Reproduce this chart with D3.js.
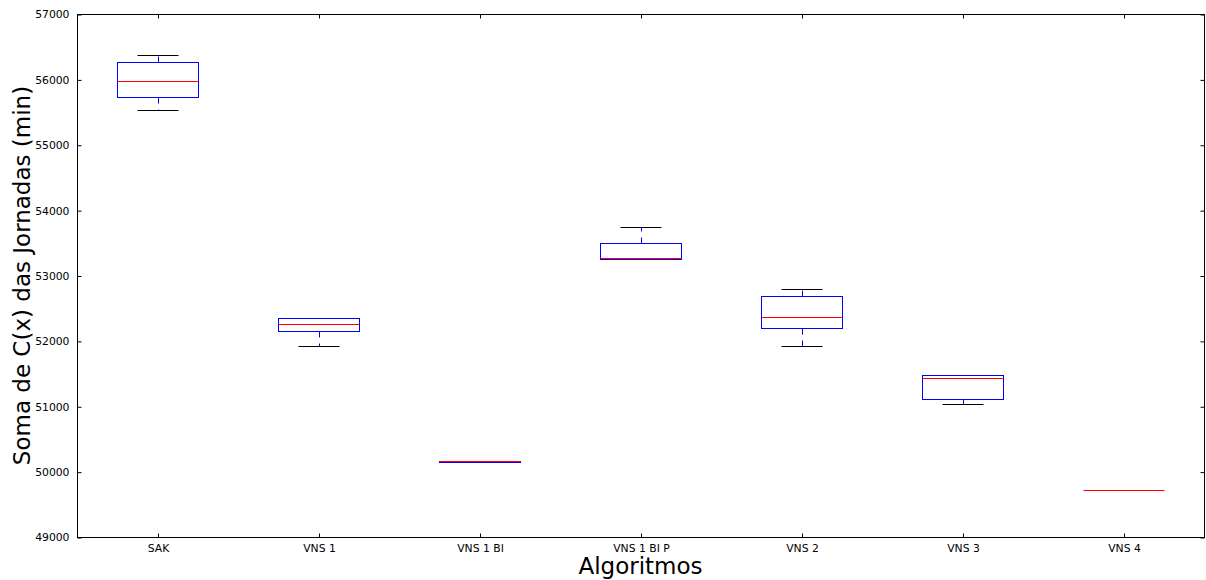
<!DOCTYPE html>
<html>
<head>
<meta charset="utf-8">
<script src="https://cdn.jsdelivr.net/npm/d3@7"></script>
<style>
  html, body { margin: 0; padding: 0; background: #ffffff; }
  svg { display: block; font-family: "DejaVu Sans", sans-serif; }
</style>
</head>
<body>
<svg id="chart" width="1206" height="580"></svg>
<script>
// Box plot summaries per algorithm (minutes)
const categories  = ["SAK", "VNS 1", "VNS 1 BI", "VNS 1 BI P", "VNS 2", "VNS 3", "VNS 4"];
const whiskerLow  = [55532, 51917, 50148, 53245, 51922, 51034, 49719];
const q1          = [55730, 52151, 50148, 53248, 52192, 51116, 49719];
const median      = [55975, 52258, 50160, 53272, 52360, 51432, 49719];
const q3          = [56266, 52355, 50160, 53492, 52691, 51475, 49719];
const whiskerHigh = [56373, 52355, 50160, 53742, 52798, 51478, 49719];
const yTicks      = [49000, 50000, 51000, 52000, 53000, 54000, 55000, 56000, 57000];

const margin = { left: 77, right: 1204, top: 14, bottom: 537 };
const svg = d3.select("#chart");

const x = d3.scaleLinear().domain([0.5, categories.length + 0.5]).range([margin.left, margin.right]);
const y = d3.scaleLinear().domain([49000, 57000]).range([margin.bottom, margin.top]);
// snap to pixel centres so 1px strokes stay crisp
const px = v => Math.round(x(v)) + 0.5;
const py = v => Math.round(y(v)) + 0.5;
const halfBox = 0.25;
const capHalf = 0.125;

const g = svg.append("g");

const data = categories.map((c, i) => ({
  i: i + 1, lo: whiskerLow[i], q1: q1[i], med: median[i], q3: q3[i], hi: whiskerHigh[i]
}));

const box = g.selectAll("g.box").data(data).enter().append("g").attr("class", "box");

// whiskers (dashed blue)
box.append("line")
  .attr("x1", d => px(d.i)).attr("x2", d => px(d.i))
  .attr("y1", d => py(d.q3)).attr("y2", d => py(d.hi))
  .attr("stroke", "#0000ff").attr("stroke-width", 1).attr("stroke-dasharray", "6,6");
box.append("line")
  .attr("x1", d => px(d.i)).attr("x2", d => px(d.i))
  .attr("y1", d => py(d.q1)).attr("y2", d => py(d.lo))
  .attr("stroke", "#0000ff").attr("stroke-width", 1).attr("stroke-dasharray", "6,6");
// caps (black)
box.append("line")
  .attr("x1", d => px(d.i - capHalf)).attr("x2", d => px(d.i + capHalf))
  .attr("y1", d => py(d.hi)).attr("y2", d => py(d.hi))
  .attr("stroke", "#000000").attr("stroke-width", 1);
box.append("line")
  .attr("x1", d => px(d.i - capHalf)).attr("x2", d => px(d.i + capHalf))
  .attr("y1", d => py(d.lo)).attr("y2", d => py(d.lo))
  .attr("stroke", "#000000").attr("stroke-width", 1);
// box (blue)
box.append("rect")
  .attr("x", d => px(d.i - halfBox))
  .attr("width", d => px(d.i + halfBox) - px(d.i - halfBox))
  .attr("y", d => py(d.q3))
  .attr("height", d => Math.max(0, py(d.q1) - py(d.q3)))
  .attr("fill", "none").attr("stroke", "#0000ff").attr("stroke-width", 1);
// median (red)
box.append("line")
  .attr("x1", d => px(d.i - halfBox)).attr("x2", d => px(d.i + halfBox))
  .attr("y1", d => py(d.med)).attr("y2", d => py(d.med))
  .attr("stroke", "#ff0000").attr("stroke-width", 1);

// Frame
svg.append("rect")
  .attr("x", margin.left + 0.5).attr("y", margin.top + 0.5)
  .attr("width", margin.right - margin.left).attr("height", margin.bottom - margin.top)
  .attr("fill", "none").attr("stroke", "#000000").attr("stroke-width", 1);

// Axes with inward ticks on all four sides
const tickLen = 4;
const xIdx = d3.range(1, categories.length + 1);
const fontSize = "10.8px";

const bottomAxis = d3.axisBottom(x).tickValues(xIdx).tickFormat(d => categories[d - 1])
  .tickSizeInner(-tickLen).tickSizeOuter(0).tickPadding(7);
const ax = svg.append("g").attr("transform", `translate(0.5,${margin.bottom + 0.5})`).call(bottomAxis);

const topAxis = d3.axisTop(x).tickValues(xIdx).tickFormat("").tickSizeInner(-tickLen).tickSizeOuter(0);
const at = svg.append("g").attr("transform", `translate(0.5,${margin.top + 0.5})`).call(topAxis);

const leftAxis = d3.axisLeft(y).tickValues(yTicks).tickFormat(d3.format("d"))
  .tickSizeInner(-tickLen).tickSizeOuter(0).tickPadding(8);
const al = svg.append("g").attr("transform", `translate(${margin.left + 0.5},0.5)`).call(leftAxis);

const rightAxis = d3.axisRight(y).tickValues(yTicks).tickFormat("").tickSizeInner(-tickLen).tickSizeOuter(0);
const ar = svg.append("g").attr("transform", `translate(${margin.right + 0.5},0.5)`).call(rightAxis);

[ax, at, al, ar].forEach(a => {
  a.select(".domain").remove();
  a.selectAll("line").attr("stroke", "#000000");
  a.selectAll("text").attr("fill", "#000000").style("font-family", "'DejaVu Sans', sans-serif").style("font-size", fontSize);
});

// Axis titles
svg.append("text")
  .attr("x", (margin.left + margin.right) / 2).attr("y", 574)
  .attr("text-anchor", "middle")
  .style("font-size", "23px")
  .text("Algoritmos");

svg.append("text")
  .attr("transform", `translate(30,${(margin.top + margin.bottom) / 2}) rotate(-90)`)
  .attr("text-anchor", "middle")
  .style("font-size", "23px")
  .text("Soma de C(x) das Jornadas (min)");
</script>
</body>
</html>
